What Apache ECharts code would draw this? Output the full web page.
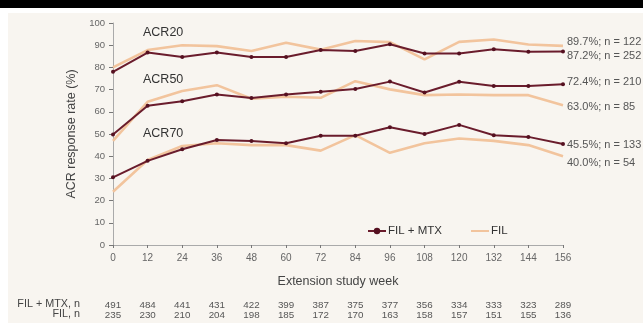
<!DOCTYPE html>
<html>
<head>
<meta charset="utf-8">
<script src="https://cdn.jsdelivr.net/npm/echarts@6/dist/echarts.min.js"></script>
<style>
  html, body { margin: 0; padding: 0; background: #ffffff; }
  #chart { width: 643px; height: 323px; }
</style>
</head>
<body>
<div id="chart"></div>
<script>
// Study weeks on the x axis
const weeks = [0, 12, 24, 36, 48, 60, 72, 84, 96, 108, 120, 132, 144, 156];

// Response rates (%) by week
const acr20Mtx = [78.0, 86.7, 84.7, 86.7, 84.7, 84.7, 87.8, 87.4, 90.4, 86.3, 86.3, 88.2, 87.0, 87.2];
const acr20Fil = [80.0, 87.8, 90.0, 89.6, 87.4, 91.1, 88.0, 91.9, 91.4, 83.6, 91.5, 92.6, 90.3, 89.7];
const acr50Mtx = [49.8, 62.7, 64.8, 67.8, 66.2, 67.8, 69.0, 70.3, 73.6, 68.7, 73.5, 71.6, 71.6, 72.4];
const acr50Fil = [46.9, 64.5, 69.4, 72.0, 65.9, 66.8, 66.3, 73.8, 70.1, 67.5, 67.8, 67.5, 67.5, 63.0];
const acr70Mtx = [30.5, 37.9, 43.1, 47.3, 46.9, 45.8, 49.2, 49.2, 53.0, 50.0, 54.1, 49.4, 48.7, 45.5];
const acr70Fil = [24.0, 38.3, 44.6, 45.8, 45.0, 45.0, 42.5, 49.5, 41.5, 45.8, 48.0, 46.9, 45.0, 40.0];

// Patients at risk per week
const nMtx = [491, 484, 441, 431, 422, 399, 387, 375, 377, 356, 334, 333, 323, 289];
const nFil = [235, 230, 210, 204, 198, 185, 172, 170, 163, 158, 157, 151, 155, 136];

// n at the final visit, per endpoint
const endNMtx = { acr20: 252, acr50: 210, acr70: 133 };
const endNFil = { acr20: 122, acr50: 85, acr70: 54 };

const yTicks = [0, 10, 20, 30, 40, 50, 60, 70, 80, 90, 100];

const DARK = '#6a1c2c';
const LIGHT = '#f2c49d';
const FONT = 'Liberation Sans, Arial, sans-serif';

function pairs(vals) { return weeks.map((w, i) => [w, vals[i]]); }

function lineSeries(name, vals, endN, isDark, dy) {
  return {
    name: name,
    type: 'line',
    data: pairs(vals),
    z: isDark ? 4 : 3,
    symbol: isDark ? 'circle' : 'none',
    symbolSize: 4,
    showSymbol: isDark,
    itemStyle: { color: isDark ? '#551020' : LIGHT },
    lineStyle: { color: isDark ? DARK : LIGHT, width: isDark ? 2 : 2.6 },
    emphasis: { disabled: true },
    endLabel: {
      show: true,
      formatter: p => p.value[1].toFixed(1) + '%; n = ' + endN,
      color: '#555',
      fontSize: 11,
      fontFamily: FONT,
      distance: 4,
      offset: [0, dy]
    }
  };
}

function tableAxis(counts, offset) {
  return {
    type: 'value', gridIndex: 0, position: 'bottom',
    min: 0, max: 156, interval: 12, offset: offset,
    axisLine: { show: false }, axisTick: { show: false }, splitLine: { show: false },
    axisLabel: {
      color: '#555', fontSize: 9.8, fontFamily: FONT, margin: 0,
      formatter: v => String(counts[Math.round(v / 12)])
    }
  };
}

const chart = echarts.init(document.getElementById('chart'), null, { renderer: 'canvas' });

chart.setOption({
  animation: false,
  backgroundColor: '#ffffff',
  textStyle: { fontFamily: FONT },
  graphic: [
    { type: 'rect', z: -10, shape: { x: 0, y: 0, width: 643, height: 8 }, style: { fill: '#000' } },
    { type: 'rect', z: -10, shape: { x: 8, y: 13, width: 635, height: 310 }, style: { fill: '#f8f5f0' } },
    { type: 'text', left: 143, top: 26, style: { text: 'ACR20', fill: '#333', fontSize: 12.5, fontFamily: FONT } },
    { type: 'text', left: 143, top: 73, style: { text: 'ACR50', fill: '#333', fontSize: 12.5, fontFamily: FONT } },
    { type: 'text', left: 143, top: 127, style: { text: 'ACR70', fill: '#333', fontSize: 12.5, fontFamily: FONT } },
    { type: 'text', right: 563, top: 299, style: { text: 'FIL + MTX, n', fill: '#444', fontSize: 10.8, fontFamily: FONT, align: 'right' } },
    { type: 'text', right: 563, top: 309, style: { text: 'FIL, n', fill: '#444', fontSize: 10.8, fontFamily: FONT, align: 'right' } }
  ],
  legend: {
    data: [
      { name: 'FIL + MTX' },
      { name: 'FIL', itemStyle: { opacity: 0 } }
    ],
    left: 362, top: 220,
    itemWidth: 18, itemHeight: 8, itemGap: 28,
    textStyle: { color: '#333', fontSize: 11.5, fontFamily: FONT, padding: [0, 0, 0, -3] },
    selectedMode: false
  },
  grid: { left: 113, right: 80, top: 23, bottom: 78, containLabel: false },
  xAxis: [
    {
      type: 'value', min: 0, max: 156, interval: 12,
      name: 'Extension study week', nameLocation: 'middle', nameGap: 30,
      nameTextStyle: { color: '#444', fontSize: 12.5, fontFamily: FONT },
      axisLine: { show: true, lineStyle: { color: '#aaa', width: 1 } },
      axisTick: { show: true, length: 3, lineStyle: { color: '#777' } },
      axisLabel: { color: '#666', fontSize: 10, fontFamily: FONT, margin: 8 },
      splitLine: { show: false }
    },
    tableAxis(nMtx, 55),
    tableAxis(nFil, 65)
  ],
  yAxis: {
    type: 'value', min: yTicks[0], max: yTicks[yTicks.length - 1], interval: 10,
    name: 'ACR response rate (%)', nameLocation: 'middle', nameGap: 33, nameRotate: 90,
    nameTextStyle: { color: '#444', fontSize: 12.5, fontFamily: FONT },
    axisLine: { show: true, lineStyle: { color: '#aaa', width: 1 } },
    axisTick: { show: true, length: 4, lineStyle: { color: '#777' } },
    axisLabel: { color: '#666', fontSize: 9.5, fontFamily: FONT, margin: 8 },
    splitLine: { show: false }
  },
  series: [
    lineSeries('FIL', acr20Fil, endNFil.acr20, false, -4),
    lineSeries('FIL', acr50Fil, endNFil.acr50, false, 2),
    lineSeries('FIL', acr70Fil, endNFil.acr70, false, 7),
    lineSeries('FIL + MTX', acr20Mtx, endNMtx.acr20, true, 5),
    lineSeries('FIL + MTX', acr50Mtx, endNMtx.acr50, true, -2),
    lineSeries('FIL + MTX', acr70Mtx, endNMtx.acr70, true, 1)
  ]
});
</script>
</body>
</html>
